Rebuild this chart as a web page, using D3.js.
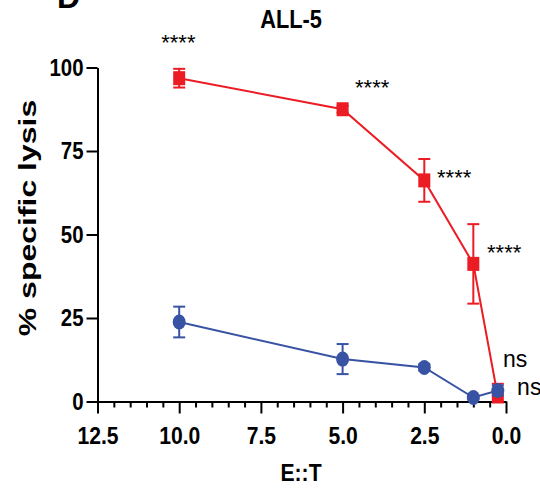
<!DOCTYPE html>
<html>
<head>
<meta charset="utf-8">
<script src="https://cdn.jsdelivr.net/npm/d3@7"></script>
<style>
  body { margin: 0; background: #fff; }
  text { font-family: "Liberation Sans", Arial, sans-serif; }
</style>
</head>
<body>
<svg id="chart" width="540" height="498"></svg>
<script>
// E:T ratios and % specific lysis (mean, SD)
const ratios = [10, 5, 2.5, 1, 0.25];
const carLysis = [96.8, 87.5, 66.2, 41.2, 1.5];
const carSD = [2.8, 1.0, 6.4, 11.9, 3.8];
const ctrlLysis = [23.8, 12.7, 10.2, 1.2, 3.3];
const ctrlSD = [4.6, 4.5, 1.0, 0.6, 1.5];

// axis ticks
const xTicks = [12.5, 10, 7.5, 5, 2.5, 0];
const yTicks = [0, 25, 50, 75, 100];

// significance annotations, anchored in data units (left edge, baseline)
const sigText = ["****", "****", "****", "****", "ns", "ns"];
const sigX = [10.55, 4.62, 2.11, 0.58, 0.09, -0.34];
const sigY = [105.2, 91.8, 64.8, 42.4, 10.2, 1.9];

const RED = "#ec1c24";
const BLUE = "#3953a4";

const svg = d3.select("#chart");

const x = d3.scaleLinear().domain([12.5, 0]).range([97.5, 506]);
const y = d3.scaleLinear().domain([0, 100]).range([401.5, 67.5]);

// narrow the glyphs horizontally while keeping their anchor
function squeeze(sel, k) {
  sel.each(function () {
    const t = d3.select(this);
    const x0 = +t.attr("x") || 0;
    t.attr("x", x0 / k).attr("transform", `scale(${k},1)`);
  });
}

// panel letter and title
svg.append("text")
  .attr("x", 57).attr("y", 8)
  .attr("font-size", 32).attr("font-weight", "bold")
  .text("D");

svg.append("text")
  .attr("transform", "translate(291,28) scale(0.87,1)")
  .attr("text-anchor", "middle")
  .attr("font-size", 25).attr("font-weight", "bold")
  .text("ALL-5");

// minor x ticks
const minor = d3.range(0.5, 12.5, 0.5).filter(v => v % 2.5 !== 0);
svg.append("g")
  .attr("transform", `translate(0,${y(0)})`)
  .call(d3.axisBottom(x).tickValues(minor).tickSize(6).tickSizeOuter(0).tickFormat(""))
  .call(g => g.select(".domain").remove())
  .call(g => g.selectAll("line").attr("stroke", "#000").attr("stroke-width", 2));

// major x axis
const gx = svg.append("g")
  .attr("transform", `translate(0,${y(0)})`)
  .call(d3.axisBottom(x).tickValues(xTicks).tickSize(12).tickSizeOuter(0)
    .tickPadding(13).tickFormat(d3.format(".1f")));
gx.select(".domain").attr("stroke-width", 2);
gx.selectAll("line").attr("stroke-width", 2);
gx.selectAll("text").attr("font-size", 24).attr("font-weight", "bold")
  .attr("font-family", "Liberation Sans, Arial, sans-serif").attr("fill", "#000");
squeeze(gx.selectAll("text"), 0.88);

// y axis
const gy = svg.append("g")
  .attr("transform", `translate(${x(12.5)},0)`)
  .call(d3.axisLeft(y).tickValues(yTicks).tickSize(11).tickSizeOuter(0)
    .tickPadding(3).tickFormat(d3.format("d")));
gy.select(".domain").attr("stroke-width", 2);
gy.selectAll("line").attr("stroke-width", 2);
gy.selectAll("text").attr("font-size", 24).attr("font-weight", "bold")
  .attr("font-family", "Liberation Sans, Arial, sans-serif").attr("fill", "#000");
squeeze(gy.selectAll("text"), 0.85);

// axis titles
svg.append("text")
  .attr("transform", "translate(301,481) scale(0.92,1)")
  .attr("text-anchor", "middle")
  .attr("font-size", 23).attr("font-weight", "bold")
  .text("E::T");

svg.append("text")
  .attr("transform", "translate(36,218) rotate(-90) scale(1,0.74)")
  .attr("text-anchor", "middle")
  .attr("font-size", 32).attr("font-weight", "bold")
  .text("% specific lysis");

// one series: error bars, connecting line, markers
function drawSeries(means, sds, color, marker) {
  const pts = ratios.map((r, i) => ({ r, m: means[i], s: sds[i] }));
  const g = svg.append("g");

  g.append("path")
    .datum(pts)
    .attr("fill", "none").attr("stroke", color).attr("stroke-width", 2)
    .attr("d", d3.line().x(d => x(d.r)).y(d => y(d.m)));

  const eb = g.selectAll(".eb").data(pts).join("g")
    .attr("stroke", color).attr("stroke-width", 2);
  eb.append("line")
    .attr("x1", d => x(d.r)).attr("x2", d => x(d.r))
    .attr("y1", d => y(Math.max(0, d.m - d.s))).attr("y2", d => y(d.m + d.s));
  eb.append("line")
    .attr("x1", d => x(d.r) - 6).attr("x2", d => x(d.r) + 6)
    .attr("y1", d => y(d.m + d.s)).attr("y2", d => y(d.m + d.s));
  eb.filter(d => d.m - d.s > 0).append("line")
    .attr("x1", d => x(d.r) - 6).attr("x2", d => x(d.r) + 6)
    .attr("y1", d => y(d.m - d.s)).attr("y2", d => y(d.m - d.s));

  if (marker === "square") {
    g.selectAll(".mk").data(pts).join("rect")
      .attr("x", d => x(d.r) - 6).attr("y", d => y(d.m) - 7)
      .attr("width", 12).attr("height", 14)
      .attr("fill", color);
  } else {
    g.selectAll(".mk").data(pts).join("ellipse")
      .attr("cx", d => x(d.r)).attr("cy", d => y(d.m))
      .attr("rx", 6.5).attr("ry", 7.5)
      .attr("fill", color);
  }
}

drawSeries(carLysis, carSD, RED, "square");
drawSeries(ctrlLysis, ctrlSD, BLUE, "circle");

// significance labels
svg.append("g").selectAll("text")
  .data(sigText.map((t, i) => ({ t, vx: sigX[i], vy: sigY[i] })))
  .join("text")
  .attr("x", d => x(d.vx)).attr("y", d => y(d.vy))
  .attr("font-size", d => d.t === "ns" ? 23 : 22)
  .attr("fill", "#000")
  .text(d => d.t);
</script>
</body>
</html>
